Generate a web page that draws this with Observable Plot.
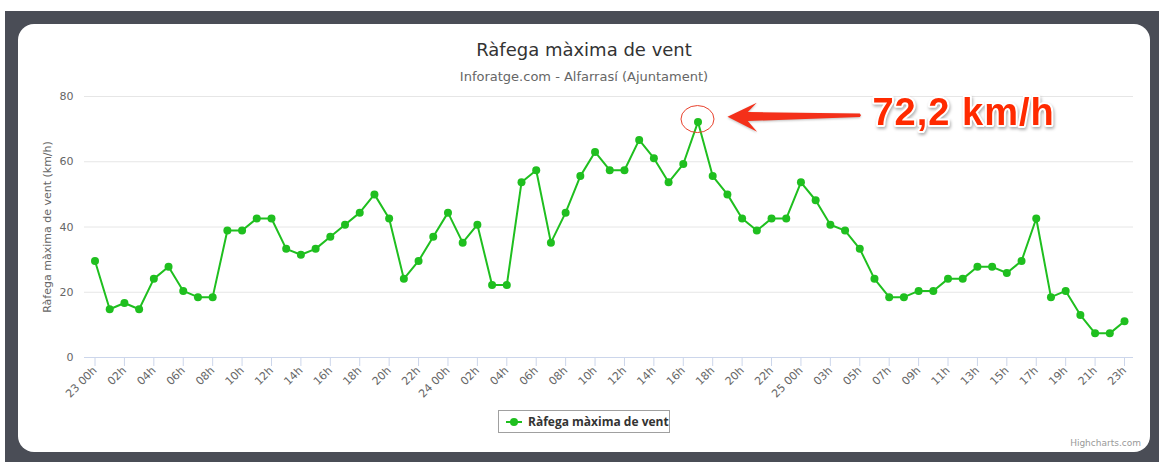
<!DOCTYPE html>
<html>
<head>
<meta charset="utf-8">
<script src="https://cdn.jsdelivr.net/npm/d3@7"></script>
<script src="https://cdn.jsdelivr.net/npm/@observablehq/plot@0.6"></script>
<style>
  html, body { margin: 0; padding: 0; }
  body { width: 1159px; height: 462px; position: relative; overflow: hidden; background: #fff; font-family: "DejaVu Sans", sans-serif; }
  #frame { position: absolute; left: 5px; top: 11px; right: 0; bottom: 0; background: #4a4d56; }
  #panel { position: absolute; left: 18px; top: 24px; width: 1132px; height: 428px; background: #fff; border-radius: 16px; overflow: hidden; }
  #chart { position: absolute; left: 0; top: 0; }
  #title { position: absolute; left: 0; width: 1132px; top: 17px; text-align: center; font-size: 18px; line-height: 18px; color: #333; }
  #subtitle { position: absolute; left: 0; width: 1132px; top: 46px; text-align: center; font-size: 13px; line-height: 13px; color: #666; }
  #legend { position: absolute; left: 480px; top: 386px; width: 170px; height: 21px; border: 1px solid #a0a0a0; display: flex; align-items: center; box-sizing: content-box; }
  #legend span { font-family: "Open Sans", sans-serif; font-weight: bold; font-size: 12px; color: #333; margin-left: 6px; }
  #credit { position: absolute; right: 9px; top: 414px; font-size: 9px; color: #999; }
</style>
</head>
<body>
<div id="frame"></div>
<div id="panel">
  <div id="chart"></div>
  <div id="title">Ràfega màxima de vent</div>
  <div id="subtitle">Inforatge.com - Alfarrasí (Ajuntament)</div>
  <div id="legend"></div>
  <div id="credit">Highcharts.com</div>
</div>
<script>
// Category labels (hours, 23 to 25 of the month; 25 02h missing)
const hourLabels = [
  "23 00h","01h","02h","03h","04h","05h","06h","07h","08h","09h","10h","11h",
  "12h","13h","14h","15h","16h","17h","18h","19h","20h","21h","22h","23h",
  "24 00h","01h","02h","03h","04h","05h","06h","07h","08h","09h","10h","11h",
  "12h","13h","14h","15h","16h","17h","18h","19h","20h","21h","22h","23h",
  "25 00h","01h","03h","04h","05h","06h","07h","08h","09h","10h","11h",
  "12h","13h","14h","15h","16h","17h","18h","19h","20h","21h","22h","23h"
];
// Max wind gust (km/h)
const gustValues = [
  29.6, 14.8, 16.7, 14.8, 24.1, 27.8, 20.4, 18.5, 18.5, 38.9, 38.9, 42.6,
  42.6, 33.3, 31.5, 33.3, 37.0, 40.7, 44.4, 50.0, 42.6, 24.1, 29.6, 37.0,
  44.4, 35.2, 40.7, 22.2, 22.2, 53.7, 57.4, 35.2, 44.4, 55.6, 63.0, 57.4,
  57.4, 66.7, 61.1, 53.7, 59.3, 72.2, 55.6, 50.0, 42.6, 38.9, 42.6, 42.6,
  53.7, 48.2, 40.7, 38.9, 33.3, 24.1, 18.5, 18.5, 20.4, 20.4, 24.1,
  24.1, 27.8, 27.8, 25.9, 29.6, 42.6, 18.5, 20.4, 13.0, 7.4, 7.4, 11.1
];
const yTicks = [0, 20, 40, 60, 80];
const seriesName = "Ràfega màxima de vent";
const yTitle = "Ràfega màxima de vent (km/h)";

const green = "#1fbf1f";
const data = gustValues.map((v, i) => ({i, v}));
const xTicks = hourLabels.map((_, i) => i).filter(i => i % 2 === 0);

const plot = Plot.plot({
  width: 1132,
  height: 372,
  marginTop: 72,
  marginBottom: 39,
  marginLeft: 66,
  marginRight: 17,
  insetLeft: 10.5,
  insetRight: 9,
  style: {background: "transparent", fontFamily: "DejaVu Sans, sans-serif", fontSize: "11px", color: "#666", overflow: "visible"},
  x: {type: "linear", domain: [0, hourLabels.length - 1]},
  y: {domain: [0, 80]},
  marks: [
    Plot.ruleY(yTicks.filter(d => d > 0), {stroke: "#e6e6e6", strokeWidth: 1}),
    Plot.ruleY([0], {stroke: "#ccd6eb", strokeWidth: 1}),
    Plot.axisY({ticks: yTicks, tickSize: 0, tickPadding: 11, fill: "#666", fontSize: 11,
      label: yTitle, labelAnchor: "center", labelOffset: 41, labelArrow: "none"}),
    Plot.axisX({ticks: xTicks, tickFormat: i => hourLabels[i], tickRotate: -45, tickSize: 9, tickPadding: 2,
      stroke: "#ccd6eb", fill: "#666", fontSize: 11, label: null}),
    Plot.line(data, {x: "i", y: "v", stroke: green, strokeWidth: 2}),
    Plot.dot(data, {x: "i", y: "v", r: 4, fill: green})
  ]
});
document.getElementById("chart").appendChild(plot);

// Annotation around the peak value, positioned through the plot's scales
const peakVal = d3.max(gustValues);
const peakIdx = gustValues.indexOf(peakVal);
const px = plot.scale("x").apply(peakIdx);
const py = plot.scale("y").apply(peakVal);
const svg = d3.select(plot);
const ann = svg.append("g");
ann.append("ellipse")
  .attr("cx", px).attr("cy", py - 2.4).attr("rx", 16.5).attr("ry", 13.5)
  .attr("fill", "none").attr("stroke", "#e8412c").attr("stroke-width", 1);
const arrowPts = [[30, -4.7], [59.3, -18.7], [50.3, -9.4], [162.3, -7.9], [163.5, -6.1], [162.3, -4.4], [50.3, -0.4], [59.6, 10.3]];
ann.append("polygon")
  .attr("points", arrowPts.map(([dx, dy]) => `${px + dx},${py + dy}`).join(" "))
  .attr("fill", "#f4301a")
  .style("filter", "drop-shadow(0px 1px 1px rgba(0,0,0,0.25))");
ann.append("text")
  .attr("x", px + 175).attr("y", py + 4)
  .attr("text-anchor", "start")
  .attr("font-family", "Liberation Sans, Arial, sans-serif")
  .attr("font-weight", "bold")
  .attr("font-size", 38)
  .attr("letter-spacing", 1)
  .attr("fill", "#ff2a00")
  .attr("stroke", "#fff").attr("stroke-width", 4).attr("stroke-linejoin", "round")
  .attr("paint-order", "stroke")
  .style("filter", "drop-shadow(1px 2px 1.5px rgba(0,0,0,0.3))")
  .text(peakVal.toFixed(1).replace(".", ",") + " km/h");

// Legend
const legend = document.getElementById("legend");
legend.innerHTML = `<svg width="16" height="10" style="margin-left:7px"><line x1="0" y1="5" x2="16" y2="5" stroke="${green}" stroke-width="2"/><circle cx="8" cy="5" r="4" fill="${green}"/></svg><span>${seriesName}</span>`;
</script>
</body>
</html>
